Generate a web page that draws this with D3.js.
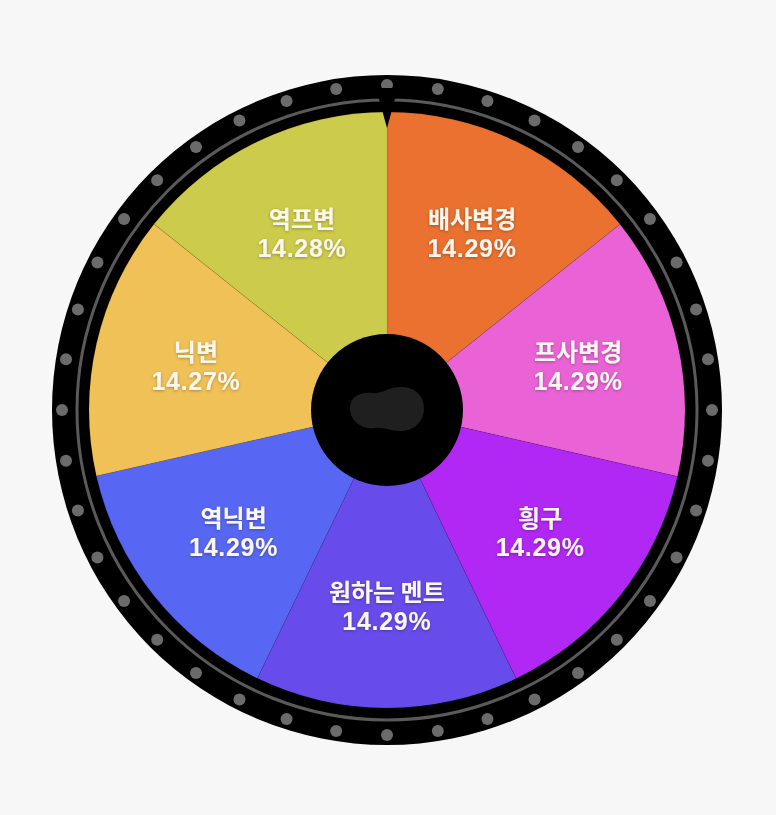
<!DOCTYPE html>
<html>
<head>
<meta charset="utf-8">
<script src="https://cdn.jsdelivr.net/npm/d3@7"></script>
<style>
  html, body { margin: 0; padding: 0; background: #f7f7f7; }
  svg { display: block; }
</style>
</head>
<body>
<svg id="wheel" width="776" height="815"></svg>
<script>
// slices clockwise from 12 o'clock
const labels = ["배사변경", "프사변경", "힁구", "원하는 멘트", "역닉변", "닉변", "역프변"];
const values = [14.29, 14.29, 14.29, 14.29, 14.29, 14.27, 14.28];
const colors = ["#ea712f", "#ea63d6", "#b127f3", "#674ceb", "#5767f3", "#efc157", "#cdcb4b"];
const dotCount = 40;

const svg = d3.select("#wheel");
const cx = 387, cy = 410;
const outerR = 335, trackR = 310, sliceR = 298, holeR = 76, dotR = 325;

const defs = svg.append("defs");
const shadow = defs.append("filter").attr("id", "txtShadow")
  .attr("x", "-20%").attr("y", "-20%").attr("width", "140%").attr("height", "140%");
shadow.append("feDropShadow")
  .attr("dx", 0).attr("dy", 1).attr("stdDeviation", 1.5)
  .attr("flood-color", "#000").attr("flood-opacity", 0.3);

const g = svg.append("g").attr("transform", `translate(${cx},${cy})`);

// outer black rim
g.append("circle").attr("r", outerR).attr("fill", "#000");

// grey track line
g.append("circle").attr("r", trackR)
  .attr("fill", "none").attr("stroke", "#5a5a5a").attr("stroke-width", 3);

// rim dots
const dotAngle = d3.scaleLinear().domain([0, dotCount]).range([0, 2 * Math.PI]);
g.selectAll("circle.dot")
  .data(d3.range(dotCount))
  .enter()
  .append("circle")
  .attr("class", "dot")
  .attr("cx", (d) => dotR * Math.sin(dotAngle(d)))
  .attr("cy", (d) => -dotR * Math.cos(dotAngle(d)))
  .attr("r", 6)
  .attr("fill", "#6b6b6b");

// inner black gap behind slices
g.append("circle").attr("r", sliceR + 3).attr("fill", "#000");

const pie = d3.pie().sort(null).value((d) => d.value);
const data = labels.map((l, i) => ({ label: l, value: values[i], color: colors[i] }));
const arcs = pie(data);

const arc = d3.arc().innerRadius(0).outerRadius(sliceR);
g.selectAll("path.slice")
  .data(arcs)
  .enter()
  .append("path")
  .attr("class", "slice")
  .attr("d", arc)
  .attr("fill", (d) => d.data.color)
  .attr("stroke", "rgba(0,0,0,0.12)")
  .attr("stroke-width", 0.6);

// labels
const labelArc = d3.arc().innerRadius(196).outerRadius(196);
const lbl = g.selectAll("g.lbl")
  .data(arcs)
  .enter()
  .append("g")
  .attr("class", "lbl")
  .attr("transform", (d) => `translate(${labelArc.centroid(d)})`)
  .attr("filter", "url(#txtShadow)");

lbl.append("text")
  .attr("y", -5)
  .attr("text-anchor", "middle")
  .attr("font-family", "'Noto Sans CJK KR', 'Noto Sans', sans-serif")
  .attr("font-weight", 600)
  .attr("font-size", 24)
  .attr("fill", "#fbf6ee")
  .text((d) => d.data.label);

lbl.append("text")
  .attr("y", 24)
  .attr("text-anchor", "middle")
  .attr("font-family", "'Liberation Sans', Arial, sans-serif")
  .attr("font-weight", 700)
  .attr("font-size", 25)
  .attr("letter-spacing", 0.7)
  .attr("fill", "#fbf6ee")
  .text((d) => d3.format(".2f")(d.data.value) + "%");

// center hub
g.append("circle").attr("r", holeR).attr("fill", "#000");
g.append("path")
  .attr("d", "M-37,-2 C-37,-14 -26,-18 -14,-17 C-6,-16 0,-22 12,-23 C28,-24 37,-14 37,-2 C37,12 27,21 13,21 C4,21 -3,17 -12,18 C-26,20 -37,10 -37,-2 Z")
  .attr("fill", "#1f1f1f");

// pointer
g.append("path")
  .attr("d", `M-11,${-trackR - 12} L11,${-trackR - 12} L0,${-sliceR + 16} Z`)
  .attr("fill", "#000");
</script>
</body>
</html>
